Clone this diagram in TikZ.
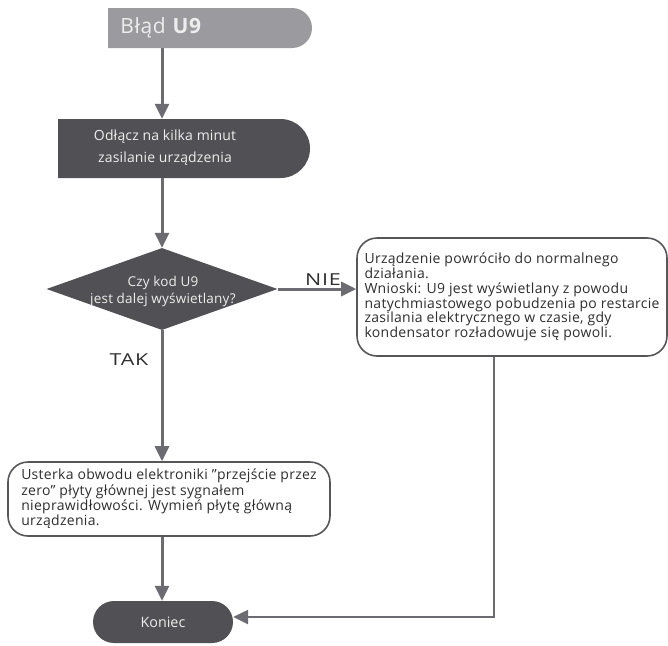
\documentclass[tikz,border=0pt]{standalone}
\usepackage{fontspec}
\setmainfont{Open Sans}
\newfontfamily\answerfont{Open Sans}[FakeStretch=1.3,LetterSpace=5]
\usetikzlibrary{shapes.misc,shapes.geometric,arrows.meta}
\definecolor{lightfill}{HTML}{9B9A9F}
\definecolor{darkfill}{HTML}{515055}
\definecolor{arrowcol}{HTML}{6C6B71}
\definecolor{bordercol}{HTML}{57565B}
\definecolor{txtdark}{HTML}{2E2E2E}
\definecolor{txtlight}{HTML}{EDEDED}
\begin{document}
\begin{tikzpicture}[x=1pt,y=-1pt,
  conn/.style={draw=arrowcol, line width=3pt, -{Triangle[width=14pt,length=15pt]}},
  thinconn/.style={draw=arrowcol, line width=2.4pt, -{Triangle[width=14pt,length=15pt]}},
  halfpill/.style={rounded rectangle, rounded rectangle west arc=none, inner sep=0pt},
  pill/.style={rounded rectangle, inner sep=0pt, fill=darkfill, text=txtlight},
  lighttext/.style={text=txtlight, inner sep=0pt, align=center},
  decshape/.style={diamond, fill=darkfill, inner sep=0pt},
  infobox/.style={draw=bordercol, line width=1.6pt, rounded corners=20pt, fill=white, text=txtdark, align=left, inner sep=0pt},
  answer/.style={text=txtdark, font=\answerfont\fontsize{16.5}{18}\selectfont, inner sep=0pt}
]
\useasboundingbox (0,0) rectangle (668,645);

\node[halfpill, fill=lightfill, minimum width=204pt, minimum height=40pt] (start) at (210,28) {};
\node[lighttext, font=\fontsize{21}{24}\selectfont\addfontfeature{LetterSpace=3}] (starttxt) at (161,28) {Błąd \textbf{U9}};

\node[halfpill, fill=darkfill, minimum width=252pt, minimum height=59pt] (odl) at (184,148.5) {};
\node[lighttext, font=\fontsize{14}{22}\selectfont\addfontfeature{LetterSpace=1}] (odltxt) at (165,148) {Odłącz na kilka minut\\zasilanie urządzenia};

\node[decshape, minimum width=231pt, minimum height=82pt] (dec) at (162,289) {};
\node[lighttext, font=\fontsize{13.5}{17}\selectfont\addfontfeature{LetterSpace=1.5}] (dectxt) at (163,291) {Czy kod U9\\jest dalej wyświetlany?};

\node[infobox, minimum width=310pt, minimum height=118pt, font=\fontsize{14}{14.8}\selectfont\addfontfeature{LetterSpace=2.2}] (rbox) at (512,297)
 {Urządzenie powróciło do normalnego\\działania.\\Wnioski: U9 jest wyświetlany z powodu\\natychmiastowego pobudzenia po restarcie\\zasilania elektrycznego w czasie, gdy\\kondensator rozładowuje się powoli.};

\node[infobox, minimum width=322pt, minimum height=74pt, font=\fontsize{14}{15.3}\selectfont\addfontfeature{LetterSpace=2.2}] (ubox) at (169,499)
 {Usterka obwodu elektroniki "przejście przez\\zero" płyty głównej jest sygnałem\\nieprawidłowości. Wymień płytę główną\\urządzenia.};

\node[pill, minimum width=140pt, minimum height=42pt, font=\fontsize{14.3}{16}\selectfont] (koniec) at (163,622) {Koniec};

\node[answer] (nie) at (323,280) {NIE};
\node[answer] (tak) at (129,360) {TAK};

\coordinate (mx) at (162,0);
\coordinate (rx) at (494,0);

\draw[conn] (start.south -| mx) -- (odl.north -| mx);
\draw[conn] (odl.south -| mx) -- (dec.north);
\draw[conn] (dec.east) -- (rbox.west |- dec.east);
\draw[conn] (dec.south) -- (ubox.north -| mx);
\draw[conn] (ubox.south -| mx) -- (koniec.north -| mx);
\draw[thinconn] (rbox.south -| rx) |- ([yshift=5pt]koniec.east);
\end{tikzpicture}
\end{document}
